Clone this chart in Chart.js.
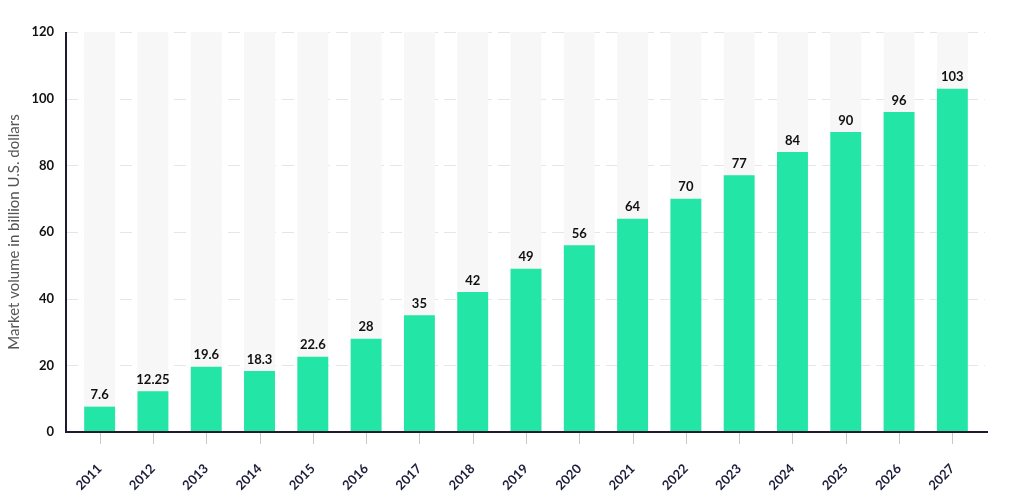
<!DOCTYPE html>
<html>
<head>
<meta charset="utf-8">
<script src="https://cdn.jsdelivr.net/npm/chart.js@4.4.1/dist/chart.umd.min.js"></script>
<style>
  html, body { margin: 0; padding: 0; background: #fff; }
  #wrap { width: 1024px; height: 492px; }
</style>
</head>
<body>
<div id="wrap"><canvas id="c" width="1024" height="492"></canvas></div>
<script>
// market volume per year, in billion U.S. dollars
const years = ['2011','2012','2013','2014','2015','2016','2017','2018','2019',
               '2020','2021','2022','2023','2024','2025','2026','2027'];
const volumes = [7.6, 12.25, 19.6, 18.3, 22.6, 28, 35, 42, 49, 56, 64, 70, 77, 84, 90, 96, 103];
const yTicks = [0, 20, 40, 60, 80, 100, 120];
const backdrop = years.map(() => 120);

const FONT = "'Lato', 'DejaVu Sans', sans-serif";

// value labels above the green bars + dashed grid + axis lines drawn past the bars
const decor = {
    id: 'decor',
    beforeDatasetsDraw(chart) {
        const {ctx, chartArea, scales} = chart;
        ctx.save();
        ctx.strokeStyle = '#e6e6e6';
        ctx.lineWidth = 1;
        ctx.setLineDash([12, 6]);
        yTicks.forEach(v => {
            if (v === 0) return;
            const y = Math.round(scales.y.getPixelForValue(v)) + 0.5;
            ctx.beginPath();
            ctx.moveTo(chartArea.left - 7, y);
            ctx.lineTo(chartArea.right + 6, y);
            ctx.stroke();
        });
        ctx.restore();
    },
    afterDatasetsDraw(chart) {
        const {ctx, chartArea, scales} = chart;
        const meta = chart.getDatasetMeta(1);
        ctx.save();
        ctx.fillStyle = '#111';
        ctx.font = "bold 13px " + FONT;
        ctx.textAlign = 'center';
        ctx.textBaseline = 'bottom';
        meta.data.forEach((bar, i) => {
            ctx.fillText(String(volumes[i]), bar.x, bar.y - 5);
        });
        // axis lines
        const y0 = scales.y.getPixelForValue(0);
        const yTop = scales.y.getPixelForValue(120);
        ctx.strokeStyle = '#1c1c2e';
        ctx.lineWidth = 2;
        ctx.beginPath();
        ctx.moveTo(chartArea.left - 7, yTop);
        ctx.lineTo(chartArea.left - 7, y0);
        ctx.lineTo(chartArea.right + 9, y0);
        ctx.stroke();
        // small ticks under the axis
        ctx.strokeStyle = '#c8c8c8';
        ctx.lineWidth = 1;
        years.forEach((yr, i) => {
            const x = Math.round(scales.x.getPixelForValue(i)) + 0.5;
            ctx.beginPath();
            ctx.moveTo(x, y0 + 1);
            ctx.lineTo(x, y0 + 12);
            ctx.stroke();
        });
        ctx.restore();
    }
};

new Chart(document.getElementById('c').getContext('2d'), {
    type: 'bar',
    data: {
        labels: years,
        datasets: [
            {
                label: 'backdrop',
                data: backdrop,
                backgroundColor: '#f7f7f7',
                order: 1
            },
            {
                label: 'Market volume',
                data: volumes,
                backgroundColor: '#22e5a6',
                order: 0
            }
        ]
    },
    options: {
        responsive: false,
        animation: false,
        events: [],
        layout: { padding: { top: 32, right: 45, left: 0, bottom: 0 } },
        datasets: {
            bar: { grouped: false, categoryPercentage: 1, barPercentage: 0.58 }
        },
        plugins: {
            legend: { display: false },
            tooltip: { enabled: false }
        },
        scales: {
            x: {
                grid: { display: false },
                border: { display: false },
                ticks: {
                    color: '#1c1c3a',
                    font: { family: FONT, size: 13, weight: 'bold' },
                    maxRotation: 45,
                    minRotation: 45,
                    padding: 21
                },
                afterFit(scale) { scale.height = 60; }
            },
            y: {
                min: 0,
                max: 120,
                grid: { display: false },
                border: { display: false },
                afterBuildTicks(scale) { scale.ticks = yTicks.map(v => ({value: v})); },
                ticks: {
                    color: '#111',
                    font: { family: FONT, size: 13, weight: 'bold' },
                    padding: 11
                },
                title: {
                    display: true,
                    text: 'Market volume in billion U.S. dollars',
                    color: '#555',
                    font: { family: FONT, size: 15 },
                    padding: { top: 5, bottom: 6 }
                },
                afterFit(scale) { scale.width = 73; }
            }
        }
    },
    plugins: [decor]
});
</script>
</body>
</html>
